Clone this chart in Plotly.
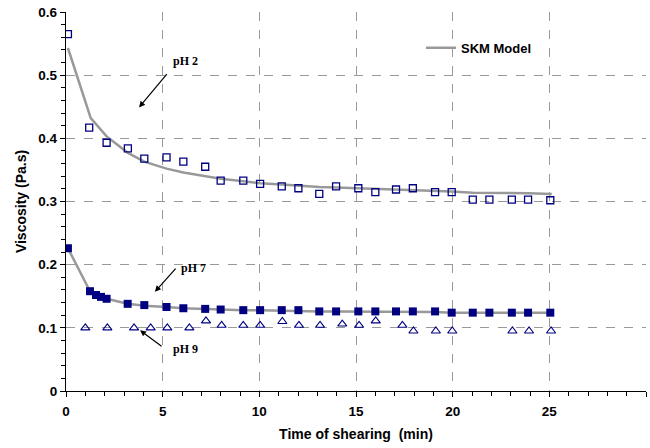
import plotly.graph_objects as go

# pH 2 data (open squares) and SKM model
t_ph2 = [0.1, 1.2, 2.1, 3.2, 4.05, 5.2, 6.07, 7.2, 8.0, 9.17, 10.04, 11.16, 12.02, 13.1,
         13.97, 15.12, 16.0, 17.07, 17.94, 19.09, 19.95, 21.04, 21.9, 23.06, 23.9, 25.05]
v_ph2 = [0.565, 0.417, 0.393, 0.384, 0.368, 0.370, 0.363, 0.355, 0.333, 0.333, 0.328, 0.324,
         0.321, 0.312, 0.324, 0.321, 0.315, 0.319, 0.321, 0.315, 0.315, 0.303, 0.303, 0.303,
         0.303, 0.302]
t_model2 = [0.1, 1.28, 2.1, 3.2, 4.05, 5.2, 6.07, 7.2, 8.0, 9.17, 10.04, 11.16, 12.02, 13.1,
            13.97, 15.12, 16.0, 17.07, 17.94, 19.09, 19.95, 21.04, 21.9, 23.06, 23.9, 25.13]
v_model2 = [0.543, 0.432, 0.403, 0.377, 0.363, 0.352, 0.346, 0.340, 0.336, 0.332, 0.329, 0.327,
            0.325, 0.323, 0.322, 0.321, 0.320, 0.319, 0.318, 0.317, 0.316, 0.314, 0.314, 0.314,
            0.313, 0.312]

# pH 7 data (filled squares) and SKM model
t_ph7 = [0.1, 1.24, 1.55, 1.81, 2.1, 3.19, 4.05, 5.2, 6.07, 7.2, 8.0, 9.17, 10.04, 11.16, 12.02,
         13.1, 13.97, 15.12, 16.0, 17.07, 17.94, 19.09, 19.95, 21.04, 21.9, 23.06, 23.9, 25.05]
v_ph7 = [0.226, 0.158, 0.152, 0.149, 0.146, 0.138, 0.136, 0.133, 0.131, 0.130, 0.129, 0.128,
         0.128, 0.128, 0.128, 0.126, 0.126, 0.126, 0.126, 0.126, 0.126, 0.126, 0.124, 0.124,
         0.124, 0.124, 0.124, 0.124]
v_model7 = [0.226, 0.158, 0.152, 0.149, 0.146, 0.138, 0.135, 0.133, 0.131, 0.130, 0.129, 0.128,
            0.128, 0.127, 0.127, 0.126, 0.126, 0.126, 0.126, 0.125, 0.125, 0.125, 0.124, 0.124,
            0.124, 0.124, 0.124, 0.124]

# pH 9 data (open triangles)
t_ph9 = [1.0, 2.14, 3.52, 4.38, 5.24, 6.38, 7.24, 8.05, 9.17, 10.04, 11.19, 12.05, 13.14, 14.29,
         15.16, 16.02, 17.4, 17.97, 19.13, 19.98, 23.09, 23.95, 25.09]
v_ph9 = [0.100, 0.100, 0.100, 0.100, 0.100, 0.100, 0.111, 0.104, 0.104, 0.104, 0.110, 0.104,
         0.104, 0.106, 0.104, 0.111, 0.104, 0.095, 0.095, 0.095, 0.095, 0.095, 0.095]

x_ticks = [0, 5, 10, 15, 20, 25, 30]
y_ticks = [0, 0.1, 0.2, 0.3, 0.4, 0.5, 0.6]
y_ticktext = ["0", "0.1", "0.2", "0.3", "0.4", "0.5", "0.6"]

navy = "#000080"
grey = "#999999"
fnt = "Liberation Sans"

fig = go.Figure()
fig.add_trace(go.Scatter(x=t_model2, y=v_model2, mode="lines", name="SKM Model",
                         line=dict(color=grey, width=2.5), showlegend=True))
fig.add_trace(go.Scatter(x=t_ph7, y=v_model7, mode="lines", name="SKM Model pH 7",
                         line=dict(color=grey, width=2.5), showlegend=False))
fig.add_trace(go.Scatter(x=t_ph2, y=v_ph2, mode="markers", name="pH 2", showlegend=False,
                         marker=dict(symbol="square-open", size=7, color=navy,
                                     line=dict(width=1.3, color=navy))))
fig.add_trace(go.Scatter(x=t_ph7, y=v_ph7, mode="markers", name="pH 7", showlegend=False,
                         marker=dict(symbol="square", size=8, color=navy,
                                     line=dict(width=0, color=navy))))
fig.add_trace(go.Scatter(x=t_ph9, y=v_ph9, mode="markers", name="pH 9", showlegend=False,
                         marker=dict(symbol="triangle-up-open", size=8, color=navy,
                                     line=dict(width=1.1, color=navy))))

ann_font = dict(family="Liberation Serif", size=12, color="black", weight="bold")
annotations = [
    dict(x=3.78, y=0.449, ax=5.28, ay=0.504, axref="x", ayref="y", xref="x", yref="y",
         showarrow=True, arrowhead=2, arrowsize=1, arrowwidth=1.2, arrowcolor="black", text=""),
    dict(x=6.16, y=0.522, text="pH 2", showarrow=False, font=ann_font, xref="x", yref="y"),
    dict(x=4.6, y=0.157, ax=5.74, ay=0.196, axref="x", ayref="y", xref="x", yref="y",
         showarrow=True, arrowhead=2, arrowsize=1, arrowwidth=1.2, arrowcolor="black", text=""),
    dict(x=6.62, y=0.195, text="pH 7", showarrow=False, font=ann_font, xref="x", yref="y"),
    dict(x=3.83, y=0.096, ax=5.02, ay=0.069, axref="x", ayref="y", xref="x", yref="y",
         showarrow=True, arrowhead=2, arrowsize=1, arrowwidth=1.2, arrowcolor="black", text=""),
    dict(x=6.16, y=0.066, text="pH 9", showarrow=False, font=ann_font, xref="x", yref="y"),
]

tick_font = dict(family=fnt, size=13.5, color="black", weight="bold")
title_font = dict(family=fnt, size=14, color="black", weight="bold")
fig.update_layout(
    width=650, height=448,
    margin=dict(l=66, r=4, t=12, b=57),
    paper_bgcolor="white", plot_bgcolor="white",
    font=dict(family=fnt, color="black"),
    annotations=annotations,
    legend=dict(x=0.612, y=0.945, xanchor="left", yanchor="top", bgcolor="rgba(0,0,0,0)",
                font=dict(family=fnt, size=13, color="black", weight="bold")),
    xaxis=dict(range=[0, 30], tickvals=x_ticks, ticktext=[str(v) for v in x_ticks],
               showgrid=True, gridcolor="#999999", griddash="dash", gridwidth=1,
               showline=True, linecolor="black", linewidth=1.3, zeroline=False,
               ticks="outside", ticklen=5, tickcolor="black", tickwidth=1,
               ticklabelstandoff=3,
               minor=dict(dtick=1, ticks="outside", ticklen=4, tickcolor="black", showgrid=False),
               tickfont=tick_font,
               title=dict(text="Time of shearing  (min)", font=title_font, standoff=10)),
    yaxis=dict(range=[0, 0.6], tickvals=y_ticks, ticktext=y_ticktext,
               showgrid=True, gridcolor="#999999", griddash="dash", gridwidth=1,
               showline=True, linecolor="black", linewidth=1.3, zeroline=False,
               ticks="outside", ticklen=5, tickcolor="black", tickwidth=1,
               minor=dict(dtick=0.02, ticks="outside", ticklen=4, tickcolor="black", showgrid=False),
               tickfont=tick_font,
               title=dict(text="Viscosity (Pa.s)", font=title_font, standoff=8)),
)

fig.write_html("out.html")
